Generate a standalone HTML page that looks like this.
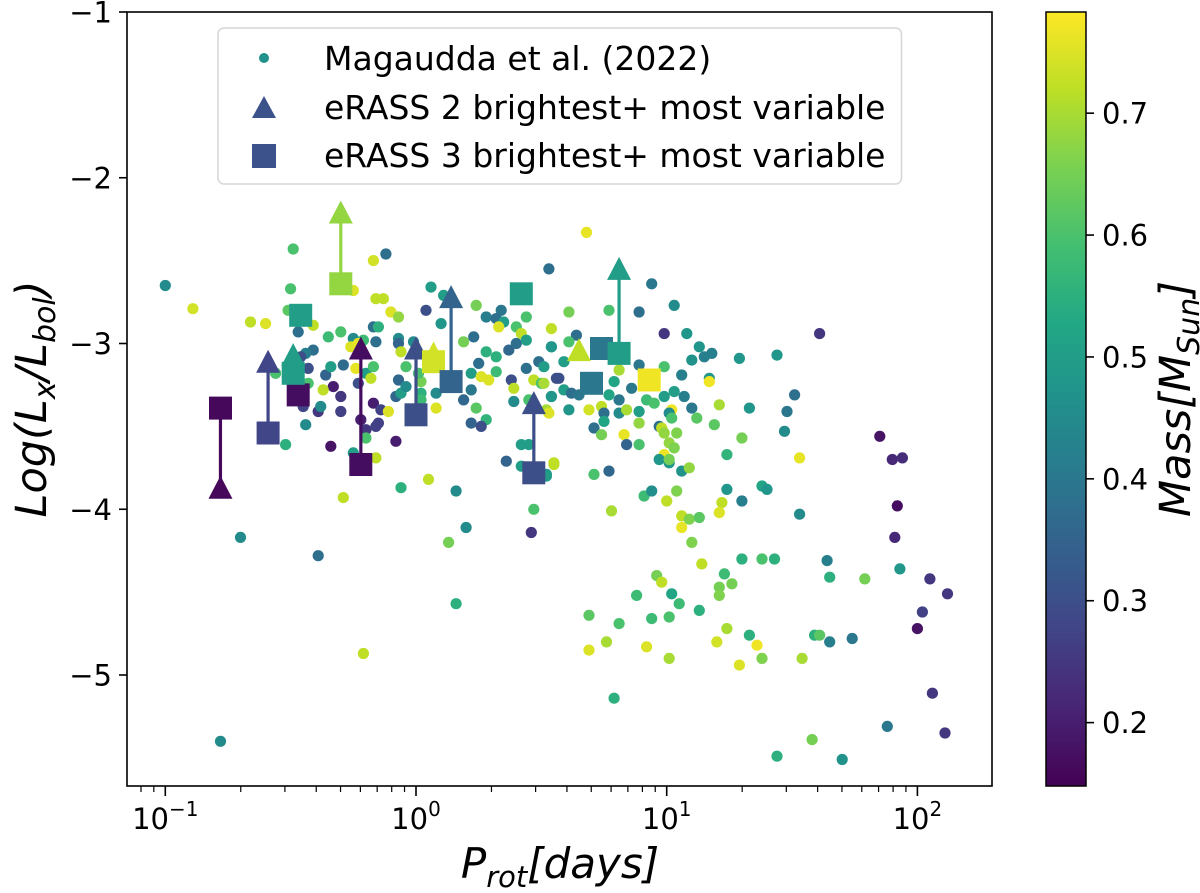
<!DOCTYPE html>
<html><head><meta charset="utf-8">
<style>
html,body{margin:0;padding:0;background:#fff;}
svg{display:block;font-family:"DejaVu Sans","Liberation Sans",sans-serif;}
</style></head>
<body>
<svg id="chart" width="1200" height="893" viewBox="0 0 1200 893" xmlns="http://www.w3.org/2000/svg">
<defs>
<linearGradient id="viridis" x1="0" y1="1" x2="0" y2="0">
<stop offset="0" stop-color="#440154"/><stop offset="0.1" stop-color="#482475"/><stop offset="0.2" stop-color="#414487"/><stop offset="0.3" stop-color="#355f8d"/><stop offset="0.4" stop-color="#2a788e"/><stop offset="0.5" stop-color="#21918c"/><stop offset="0.6" stop-color="#22a884"/><stop offset="0.7" stop-color="#44bf70"/><stop offset="0.8" stop-color="#7ad151"/><stop offset="0.9" stop-color="#bddf26"/><stop offset="1" stop-color="#fde725"/>
</linearGradient>
<clipPath id="plotclip"><rect x="127" y="12" width="865" height="774"/></clipPath>
</defs>
<g id="dots" clip-path="url(#plotclip)"></g>
<g id="pairs" clip-path="url(#plotclip)"></g>
<rect x="127" y="12" width="865" height="774" fill="none" stroke="#000" stroke-width="1.6"/>
<g id="xaxis"></g>
<g id="yaxis"></g>
<text x="560" y="878" text-anchor="middle" font-size="42" font-style="italic">P<tspan font-size="29" dy="9">rot</tspan><tspan dy="-9">[days]</tspan></text>
<text transform="translate(46,399) rotate(-90)" text-anchor="middle" font-size="43" font-style="italic">Log(L<tspan font-size="30" dy="9">x</tspan><tspan dy="-9">/L</tspan><tspan font-size="30" dy="9">bol</tspan><tspan dy="-9">)</tspan></text>
<g id="legend">
<rect id="legbox" x="218" y="28" width="690" height="156" rx="6" fill="#fff" fill-opacity="0.85" stroke="#d6d6d6" stroke-width="1.5"/>
<circle cx="264" cy="58" r="5" fill="#21918c"/>
<text id="lt1" x="324" y="70" font-size="33">Magaudda et al. (2022)</text>
<polygon points="252,118 264,96 276,118" fill="#3b528b"/>
<text id="lt2" x="324" y="119" font-size="33">eRASS 2 brightest+ most variable</text>
<rect x="252" y="144" width="24" height="24" fill="#3b528b"/>
<text id="lt3" x="324" y="167" font-size="33">eRASS 3 brightest+ most variable</text>
</g>
<rect x="1046" y="12" width="40" height="774" fill="url(#viridis)" stroke="#000" stroke-width="1.5"/>
<g id="cbticks"></g>
<text transform="translate(1190,399) rotate(-90)" text-anchor="middle" font-size="43" font-style="italic">Mass[M<tspan font-size="30" dy="9">Sun</tspan><tspan dy="-9">]</tspan></text>
</svg>
<script>
// ---- data ----
const logPeriod = [-1.00,-0.89,-0.66,-0.60,-0.49,-0.50,-0.12,-0.17,-0.25,-0.51,-0.41,-0.47,-0.16,-0.13,-0.10,-0.07,0.06,0.11,0.04,0.10,0.24,0.34,0.28,0.32,0.35,0.33,0.53,0.44,0.40,0.42,0.54,
-0.35,-0.30,-0.25,-0.21,-0.17,-0.15,-0.16,-0.07,-0.07,-0.06,-0.04,-0.26,-0.23,-0.01,0.19,0.23,0.28,0.32,0.37,0.40,0.44,
-0.41,-0.44,-0.46,-0.43,-0.56,-0.43,-0.36,-0.34,-0.33,-0.30,-0.30,-0.39,-0.38,-0.45,-0.44,-0.52,
-0.37,-0.29,-0.24,-0.20,-0.18,-0.17,-0.23,-0.17,-0.14,-0.11,-0.22,-0.20,-0.15,-0.16,-0.20,-0.16,-0.34,-0.08,-0.25,
-0.07,-0.08,-0.06,-0.04,0.02,0.01,0.02,0.02,0.08,0.08,0.22,0.25,0.26,0.29,0.32,0.22,0.19,0.24,0.28,0.22,0.26,
0.38,0.39,0.39,0.44,0.49,0.51,0.54,0.56,0.47,0.50,0.54,0.45,0.52,0.53,0.42,0.45,0.36,0.42,0.52,0.55,
-0.06,0.05,0.16,-0.29,0.47,0.20,0.46,-0.70,-0.39,0.13,0.16,-0.21,-0.78,
0.68,0.94,1.03,0.61,0.77,0.89,0.99,1.08,1.61,0.64,0.54,0.61,1.13,1.15,1.18,1.10,1.29,1.44,0.59,0.89,0.99,0.81,1.06,1.17,1.17,0.57,0.79,0.51,0.59,0.62,0.65,0.77,0.86,0.54,0.81,0.99,1.03,1.07,1.21,1.33,1.51,1.48,1.47,
0.61,0.69,0.74,0.75,0.81,0.84,0.89,0.92,0.95,1.02,1.10,1.01,1.02,1.12,1.19,0.71,0.75,0.74,0.83,0.89,0.97,0.98,0.99,1.04,0.84,0.89,1.01,1.03,0.99,0.97,1.01,1.01,1.06,1.09,1.30,1.24,1.53,0.55,0.52,0.71,0.77,
0.78,0.91,0.94,1.04,1.00,1.06,1.09,1.13,1.06,1.10,1.22,1.21,1.24,1.30,1.38,1.40,1.53,1.85,1.90,1.94,1.92,1.91,
1.14,1.30,1.38,1.43,1.64,1.65,1.79,1.93,2.05,2.12,2.02,2.00,0.96,0.98,0.88,1.02,1.05,1.21,1.26,1.21,1.23,
0.69,0.81,0.94,1.01,1.13,1.24,1.33,1.59,1.61,1.65,1.74,0.69,0.76,0.92,1.01,1.20,1.29,1.36,1.38,1.54,0.79,2.06,1.88,1.58,1.44,1.70,2.11];
const logLxLbol = [-2.65,-2.79,-2.87,-2.88,-2.43,-2.67,-2.46,-2.50,-2.68,-2.80,-2.89,-2.93,-2.73,-2.73,-2.81,-2.84,-2.66,-2.71,-2.80,-2.88,-2.77,-2.80,-2.84,-2.85,-2.87,-2.90,-2.55,-2.84,-2.90,-2.94,-2.91,
-2.96,-2.93,-2.97,-2.98,-2.90,-2.90,-2.99,-2.97,-3.00,-3.05,-3.14,-3.02,-3.00,-2.99,-2.99,-2.96,-3.05,-3.08,-3.04,-3.00,-2.98,
-3.04,-3.06,-3.08,-3.15,-3.18,-3.24,-3.19,-3.14,-3.26,-3.32,-3.41,-3.41,-3.38,-3.38,-3.49,-3.61,
-3.28,-3.13,-3.15,-3.18,-3.21,-3.14,-3.24,-3.36,-3.40,-3.41,-3.46,-3.52,-3.48,-3.50,-3.57,-3.69,-3.62,-3.59,-3.66,
-3.22,-3.32,-3.30,-3.26,-3.23,-3.18,-3.30,-3.34,-3.39,-3.30,-3.18,-3.12,-3.20,-3.22,-3.17,-3.28,-3.34,-3.39,-3.46,-3.48,-3.50,
-3.22,-3.27,-3.35,-3.15,-3.11,-3.14,-3.02,-3.21,-3.22,-3.24,-3.32,-3.34,-3.40,-3.42,-3.61,-3.61,-3.71,-3.74,-3.79,-3.72,
-3.87,-3.82,-3.89,-3.93,-4.00,-4.11,-4.14,-4.17,-4.28,-4.20,-4.57,-4.87,-5.40,
-2.33,-2.64,-2.77,-2.81,-2.80,-2.81,-2.94,-2.94,-2.94,-2.95,-3.02,-2.99,-3.02,-3.08,-3.06,-3.10,-3.09,-3.07,-3.11,-3.13,-3.14,-3.16,-3.19,-3.21,-3.23,-3.21,-3.23,-3.24,-3.28,-3.30,-3.31,-3.31,-3.27,-3.32,-3.34,-3.32,-3.29,-3.32,-3.37,-3.39,-3.31,-3.41,-3.53,
-3.40,-3.40,-3.38,-3.42,-3.42,-3.40,-3.41,-3.34,-3.36,-3.40,-3.39,-3.42,-3.45,-3.45,-3.49,-3.51,-3.47,-3.55,-3.55,-3.48,-3.50,-3.51,-3.54,-3.54,-3.61,-3.61,-3.60,-3.63,-3.67,-3.70,-3.72,-3.70,-3.77,-3.75,-3.57,-3.67,-3.69,-3.73,-3.80,-3.79,-3.77,
-4.01,-3.92,-3.89,-3.89,-3.95,-4.04,-4.06,-4.05,-4.11,-4.20,-3.96,-4.02,-3.88,-3.95,-3.86,-3.88,-4.03,-3.56,-3.70,-3.69,-3.98,-4.17,
-4.33,-4.30,-4.30,-4.30,-4.31,-4.41,-4.42,-4.36,-4.42,-4.51,-4.62,-4.72,-4.40,-4.44,-4.52,-4.51,-4.57,-4.47,-4.45,-4.52,-4.39,
-4.64,-4.69,-4.66,-4.65,-4.61,-4.72,-4.76,-4.76,-4.76,-4.80,-4.78,-4.85,-4.80,-4.83,-4.90,-4.80,-4.94,-4.82,-4.90,-4.90,-5.14,-5.11,-5.31,-5.39,-5.49,-5.51,-5.35];
const massSun = [.45,.74,.72,.75,.60,.60,.38,.74,.75,.62,.72,.38,.72,.72,.75,.68,.50,.50,.30,.48,.65,.40,.42,.38,.50,.75,.38,.60,.60,.72,.72,
.58,.60,.45,.58,.38,.55,.38,.45,.35,.72,.60,.75,.76,.45,.65,.38,.55,.55,.36,.38,.50,
.38,.42,.30,.30,.60,.60,.35,.50,.20,.25,.27,.25,.45,.28,.45,.55,
.72,.37,.76,.50,.72,.60,.30,.20,.27,.75,.20,.25,.27,.27,.60,.72,.18,.20,.50,
.36,.36,.50,.45,.65,.60,.55,.58,.75,.45,.50,.38,.75,.75,.58,.40,.36,.62,.56,.35,.30,
.30,.72,.45,.38,.38,.50,.48,.30,.72,.60,.48,.60,.70,.75,.50,.50,.35,.50,.48,.72,
.55,.72,.45,.72,.60,.45,.25,.45,.38,.65,.55,.72,.45,
.76,.40,.45,.65,.60,.38,.25,.48,.25,.38,.48,.60,.48,.42,.42,.47,.48,.48,.50,.40,.60,.70,.42,.48,.77,.30,.52,.70,.50,.38,.40,.52,.40,.48,.40,.50,.50,.42,.70,.48,.38,.40,.45,
.48,.74,.72,.38,.45,.70,.50,.58,.60,.77,.40,.45,.60,.62,.62,.38,.52,.65,.76,.68,.38,.72,.68,.66,.35,.60,.68,.66,.77,.48,.48,.65,.47,.68,.65,.56,.76,.72,.50,.60,.36,
.70,.58,.46,.66,.72,.72,.66,.62,.76,.66,.72,.75,.48,.42,.52,.48,.45,.18,.22,.23,.17,.22,
.72,.55,.60,.55,.42,.55,.65,.48,.25,.25,.27,.18,.65,.72,.58,.52,.58,.65,.65,.66,.58,
.62,.60,.58,.60,.55,.70,.55,.55,.62,.42,.40,.75,.70,.75,.70,.74,.75,.77,.66,.70,.55,.25,.40,.65,.55,.47,.25];
// eRASS pairs: period, eRASS3 (square) value, eRASS2 (triangle) value, mass
const pairLogPeriod = [-0.78,-0.59,-0.49,-0.30,-0.22,0.00,0.07,0.14,0.47,0.81];
const pairSquare   = [-3.39,-3.54,-3.18,-2.64,-3.73,-3.43,-3.11,-3.23,-3.78,-3.06];
const pairTriangle = [-3.87,-3.11,-3.07,-2.21,-3.03,-3.03,-3.06,-2.72,-3.36,-2.55];
const pairMass     = [0.16,0.28,0.50,0.68,0.17,0.30,0.74,0.35,0.30,0.50];
// standalone eRASS3 squares
const soloSqLogPeriod = [-0.46,-0.47,0.42,0.74,0.70,0.93];
const soloSqValue     = [-2.83,-3.31,-2.70,-3.03,-3.24,-3.22];
const soloSqMass      = [0.50,0.17,0.50,0.40,0.40,0.77];
// standalone eRASS2 triangles
const soloTriLogPeriod = [0.65];
const soloTriValue     = [-3.04];
const soloTriMass      = [0.72];
const xTicks = [-1,0,1,2];
const xTickLabels = ["10","10","10","10"];
const xTickExp = ["\u22121","0","1","2"];
const yTicks = [-1,-2,-3,-4,-5];
const yTickLabels = ["\u22121","\u22122","\u22123","\u22124","\u22125"];
const cbTicks = [0.2,0.3,0.4,0.5,0.6,0.7];
const cbTickLabels = ["0.2","0.3","0.4","0.5","0.6","0.7"];

// ---- scales ----
const X0=416, XD=250.7, Y1=12, YU=165.75;
function xs(lp){return X0+lp*XD;}
function ys(v){return Y1+(-1-v)*YU;}
const MMIN=0.148, MMAX=0.783;
function cbY(m){return 786-(m-MMIN)/(MMAX-MMIN)*774;}
const VIR=["#440154","#482475","#414487","#355f8d","#2a788e","#21918c","#22a884","#44bf70","#7ad151","#bddf26","#fde725"];
function hx(c){return [parseInt(c.substr(1,2),16),parseInt(c.substr(3,2),16),parseInt(c.substr(5,2),16)];}
function cmap(m){let t=Math.max(0,Math.min(1,(m-MMIN)/(MMAX-MMIN)))*10;let i=Math.min(9,Math.floor(t));let f=t-i;
 const a=hx(VIR[i]),b=hx(VIR[i+1]);return "rgb("+a.map((v,k)=>Math.round(v+(b[k]-v)*f)).join(",")+")";}
const NS="http://www.w3.org/2000/svg";
function mk(tag,parent){const e=document.createElementNS(NS,tag);parent.appendChild(e);return e;}

// dots
const gd=document.getElementById("dots");
for(let i=0;i<logPeriod.length;i++){
 const c=mk("circle",gd);
 c.setAttribute("cx",xs(logPeriod[i]).toFixed(1));c.setAttribute("cy",ys(logLxLbol[i]).toFixed(1));
 c.setAttribute("r","5.6");c.setAttribute("fill",cmap(massSun[i]));
 
 
}
const gp=document.getElementById("pairs");
function square(lp,v,m){const r=mk("rect",gp);const x=xs(lp),y=ys(v);
 r.setAttribute("x",(x-11.5).toFixed(1));r.setAttribute("y",(y-11.5).toFixed(1));r.setAttribute("width","23");r.setAttribute("height","23");r.setAttribute("fill",cmap(m));
 
 }
function tri(lp,v,m){const p=mk("polygon",gp);const x=xs(lp),y=ys(v);
 p.setAttribute("points",(x-12)+","+(y+11)+" "+x+","+(y-12)+" "+(x+12)+","+(y+11));p.setAttribute("fill",cmap(m));
 
 }
for(let i=0;i<pairLogPeriod.length;i++){
 const l=mk("line",gp);const x=xs(pairLogPeriod[i]);
 l.setAttribute("x1",x);l.setAttribute("x2",x);l.setAttribute("y1",ys(pairSquare[i]));l.setAttribute("y2",ys(pairTriangle[i]));
 l.setAttribute("stroke",cmap(pairMass[i]));l.setAttribute("stroke-width","3.2");
 
 
}
for(let i=0;i<soloSqLogPeriod.length;i++) square(soloSqLogPeriod[i],soloSqValue[i],soloSqMass[i]);
for(let i=0;i<soloTriLogPeriod.length;i++) tri(soloTriLogPeriod[i],soloTriValue[i],soloTriMass[i]);
for(let i=0;i<pairLogPeriod.length;i++){square(pairLogPeriod[i],pairSquare[i],pairMass[i]);tri(pairLogPeriod[i],pairTriangle[i],pairMass[i]);}

// x axis
const gx=document.getElementById("xaxis");
for(let d=-2;d<=2;d++){for(let k=1;k<10;k++){const lp=d+Math.log10(k);const x=xs(lp);if(x<127||x>992)continue;
 const t=mk("line",gx);t.setAttribute("x1",x);t.setAttribute("x2",x);t.setAttribute("y1",786);t.setAttribute("y2",k===1?796:792);t.setAttribute("stroke","#000");t.setAttribute("stroke-width",k===1?"1.6":"1.2");
 
 }}
for(let i=0;i<xTicks.length;i++){const tx=mk("text",gx);tx.setAttribute("x",xs(xTicks[i]));tx.setAttribute("y",829);tx.setAttribute("text-anchor","middle");tx.setAttribute("font-size","29");
 tx.textContent=xTickLabels[i];const ts=mk("tspan",tx);ts.setAttribute("font-size","20");ts.setAttribute("dy","-13");ts.textContent=xTickExp[i];
 
 }
// y axis
const gy=document.getElementById("yaxis");
for(let i=0;i<yTicks.length;i++){const y=ys(yTicks[i]);
 const t=mk("line",gy);t.setAttribute("x1",119);t.setAttribute("x2",127);t.setAttribute("y1",y);t.setAttribute("y2",y);t.setAttribute("stroke","#000");t.setAttribute("stroke-width","1.6");
 
 
 const tx=mk("text",gy);tx.setAttribute("x",112);tx.setAttribute("y",y+10.5);tx.setAttribute("text-anchor","end");tx.setAttribute("font-size","29");tx.textContent=yTickLabels[i];
 
 }
// colorbar ticks
const gc=document.getElementById("cbticks");
for(let i=0;i<cbTicks.length;i++){const y=cbY(cbTicks[i]);
 const t=mk("line",gc);t.setAttribute("x1",1086);t.setAttribute("x2",1094);t.setAttribute("y1",y);t.setAttribute("y2",y);t.setAttribute("stroke","#000");t.setAttribute("stroke-width","1.6");
 
 
 const tx=mk("text",gc);tx.setAttribute("x",1102);tx.setAttribute("y",y+10.5);tx.setAttribute("font-size","29");tx.textContent=cbTickLabels[i];
 
 }
// legend width
try{let w=0;["lt1","lt2","lt3"].forEach(id=>{const b=document.getElementById(id).getBBox();w=Math.max(w,b.x+b.width);});
 document.getElementById("legbox").setAttribute("width",(w+16-218).toFixed(1));}catch(e){}
</script>
</body></html>
